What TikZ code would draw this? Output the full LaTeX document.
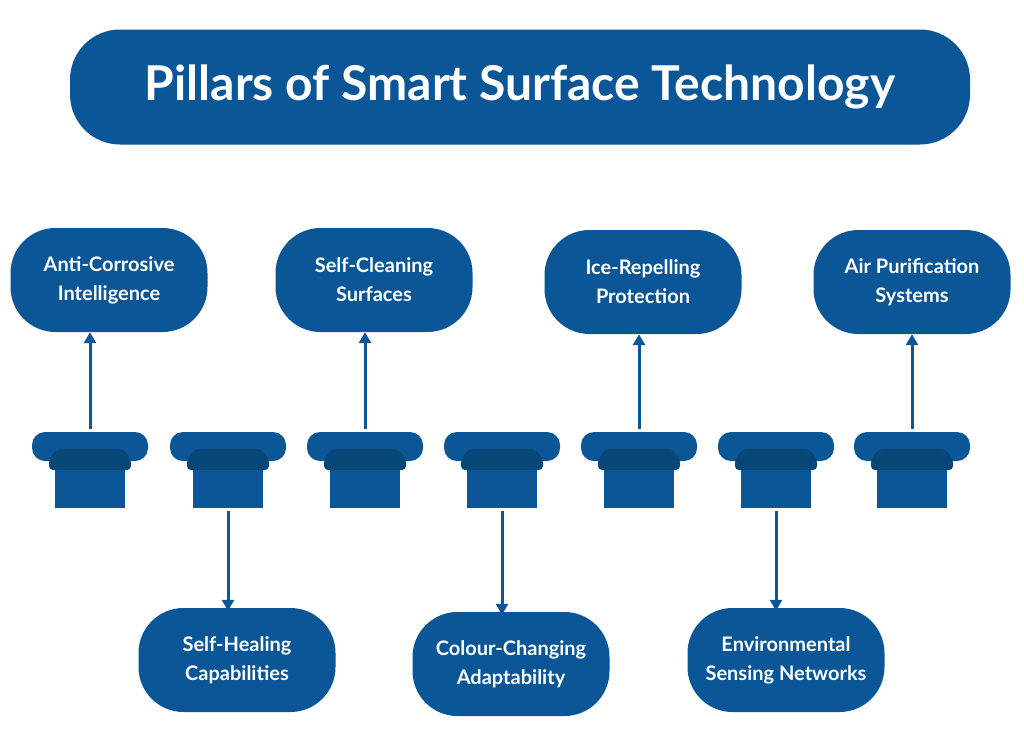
\documentclass[tikz,border=0pt]{standalone}
\usepackage{fontspec}
\setmainfont{Lato}
\usetikzlibrary{arrows.meta}
\definecolor{pblue}{HTML}{0B5697}
\definecolor{pdark}{HTML}{084878}
\tikzset{
  pillbox/.style={fill=pblue,rounded corners=45pt,minimum width=197pt,minimum height=104pt,
    text=white,font=\bfseries\fontsize{20}{29}\selectfont,align=center},
  link/.style={draw=pblue,line width=3pt,-{Triangle[length=11pt,width=12pt]}}
}
\newcommand{\pillar}[2]{%
  \fill[pblue,rounded corners=13pt] (#1-58,432) rectangle (#1+58,461);
  \fill[pdark,rounded corners=4pt] (#1-41,470) -- (#1-41,459) -- (#1-33,449) -- (#1+33,449) -- (#1+41,459) -- (#1+41,470) -- cycle;
  \fill[pblue] (#1-35,470) rectangle (#1+35,508);
  \coordinate (#2t) at (#1,429);
  \coordinate (#2b) at (#1,511);
}
\begin{document}
\begin{tikzpicture}[x=1pt,y=-1pt]
  \useasboundingbox (0,0) rectangle (1024,736);
  \node[fill=pblue,rounded corners=50pt,minimum width=900pt,minimum height=115pt,text=white,
    font=\bfseries\fontsize{48}{54}\selectfont] (title) at (520,87) {Pillars of Smart Surface Technology};

  %% pillars
  \pillar{90}{p1}
  \pillar{228}{p2}
  \pillar{365}{p3}
  \pillar{502}{p4}
  \pillar{639}{p5}
  \pillar{776}{p6}
  \pillar{912}{p7}

  %% top row
  \node[pillbox] (anti) at (109,280) {Anti-Corrosive\\Intelligence};
  \node[pillbox] (clean) at (374,280) {Self-Cleaning\\Surfaces};
  \node[pillbox] (ice) at (643,282) {Ice-Repelling\\Protection};
  \node[pillbox] (air) at (912,282) {Air Purification\\Systems};

  %% bottom row
  \node[pillbox] (heal) at (237,660) {Self-Healing\\Capabilities};
  \node[pillbox] (colour) at (511,664) {Colour-Changing\\Adaptability};
  \node[pillbox] (env) at (786,660) {Environmental\\Sensing Networks};

  \draw[link] (p1t) -- (p1t |- anti.south);
  \draw[link] (p3t) -- (p3t |- clean.south);
  \draw[link] (p5t) -- (p5t |- ice.south);
  \draw[link] (p7t) -- (p7t |- air.south);
  \draw[link] (p2b) -- ([yshift=-3pt]p2b |- heal.north);
  \draw[link] (p4b) -- ([yshift=-3pt]p4b |- colour.north);
  \draw[link] (p6b) -- ([yshift=-3pt]p6b |- env.north);
\end{tikzpicture}
\end{document}
